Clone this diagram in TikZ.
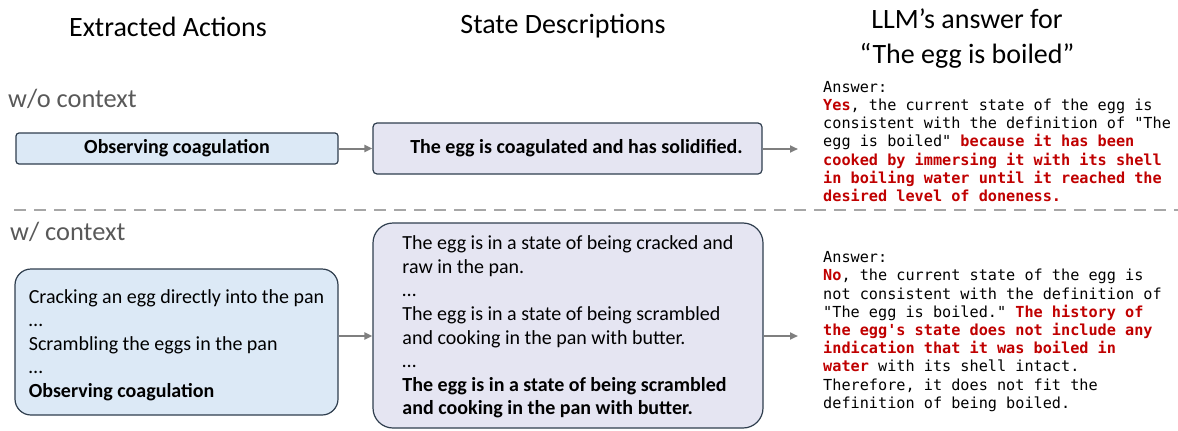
\documentclass[tikz,border=0pt]{standalone}
\usepackage{fontspec}
\setmainfont{Carlito}
\setmonofont{DejaVu Sans Mono}
\usetikzlibrary{arrows.meta}
\definecolor{boxline}{HTML}{2F3E4E}
\definecolor{actfill}{HTML}{DCE9F6}
\definecolor{statefill}{HTML}{E5E5F2}
\definecolor{arrowgray}{HTML}{7F7F7F}
\definecolor{dashgray}{HTML}{A6A6A6}
\definecolor{ansred}{HTML}{C00000}
\definecolor{labelgray}{HTML}{595959}
\newcommand{\hl}[1]{\textcolor{ansred}{\bfseries #1}}
\begin{document}
\begin{tikzpicture}[x=1pt,y=-1pt,
  header/.style={font=\fontsize{28}{32}\selectfont, inner sep=0pt, anchor=base},
  rowlabel/.style={font=\fontsize{26.4}{30}\selectfont, text=labelgray, inner sep=0pt, anchor=base west},
  actbox/.style={draw=boxline, line width=1.2pt, fill=actfill},
  statebox/.style={draw=boxline, line width=1.2pt, fill=statefill},
  boxtext/.style={font=\fontsize{20}{23.6}\selectfont},
  answer/.style={font=\ttfamily\fontsize{15.2}{18.2}\selectfont, align=left, inner sep=0pt, anchor=north west},
  flow/.style={draw=arrowgray, line width=2pt, -{Triangle[length=8pt,width=7pt]}},
  sep/.style={draw=dashgray, line width=2.5pt, dash pattern=on 12pt off 8pt},
]
\useasboundingbox (0,0) rectangle (1178,431);

% headers
\node[header] (h1) at (168,36) {Extracted Actions};
\node[header] (h2) at (563,33) {State Descriptions};
\node[header] (h3a) at (967,28) {LLM’s answer for};
\node[header] (h3b) at (967,63.5) {“The egg is boiled”};

% row labels
\node[rowlabel] (wo) at (8,107) {w/o context};
\node[rowlabel] (w) at (10,240) {w/ context};

% top row
\node[actbox, rounded corners=3pt, minimum width=322pt, minimum height=31pt, boxtext, font=\bfseries\fontsize{20}{23.6}\selectfont] (a1) at (177,148.5) {Observing coagulation};
\node[statebox, rounded corners=4pt, minimum width=389pt, minimum height=51pt, inner xsep=0pt] (s1) at (567.5,148.5) {\hspace*{18pt}\bfseries\fontsize{20}{23.6}\selectfont The egg is coagulated and has solidified.};
\coordinate (r1) at (798,149);
\draw[flow] (a1.east) -- (s1.west |- a1.east);
\draw[flow] (s1.east |- r1) -- (r1);

\node[answer] (ans1) at (823,81) {Answer:\\
\hl{Yes}, the current state of the egg is\\
consistent with the definition of "The\\
egg is boiled" \hl{because it has been}\\
\hl{cooked by immersing it with its shell}\\
\hl{in boiling water until it reached the}\\
\hl{desired level of doneness.}};

% separator
\coordinate (d0) at (14,210);
\coordinate (d1) at (1178,210);
\draw[sep] (d0) -- (d1);

% bottom row
\node[actbox, rounded corners=16pt, minimum width=323pt, minimum height=146pt, boxtext, align=left] (a2) at (176.5,342) {\rule{0pt}{20pt}Cracking an egg directly into the pan\\
…\\
Scrambling the eggs in the pan\\
…\\
\textbf{Observing coagulation}};
\node[statebox, rounded corners=20pt, minimum width=390pt, minimum height=205pt, boxtext, align=left] (s2) at (568,325.5) {\rule{0pt}{17pt}The egg is in a state of being cracked and\\
raw in the pan.\\
…\\
The egg is in a state of being scrambled\\
and cooking in the pan with butter.\\
…\\
\textbf{The egg is in a state of being scrambled}\\
\textbf{and cooking in the pan with butter.}};
\coordinate (r2) at (798,336);
\draw[flow] (a2.east |- r2) -- (s2.west |- r2);
\draw[flow] (s2.east |- r2) -- (r2);

\node[answer] (ans2) at (823,251.5) {Answer:\\
\hl{No}, the current state of the egg is\\
not consistent with the definition of\\
"The egg is boiled." \hl{The history of}\\
\hl{the egg's state does not include any}\\
\hl{indication that it was boiled in}\\
\hl{water} with its shell intact.\\
Therefore, it does not fit the\\
definition of being boiled.};
\end{tikzpicture}
\end{document}
